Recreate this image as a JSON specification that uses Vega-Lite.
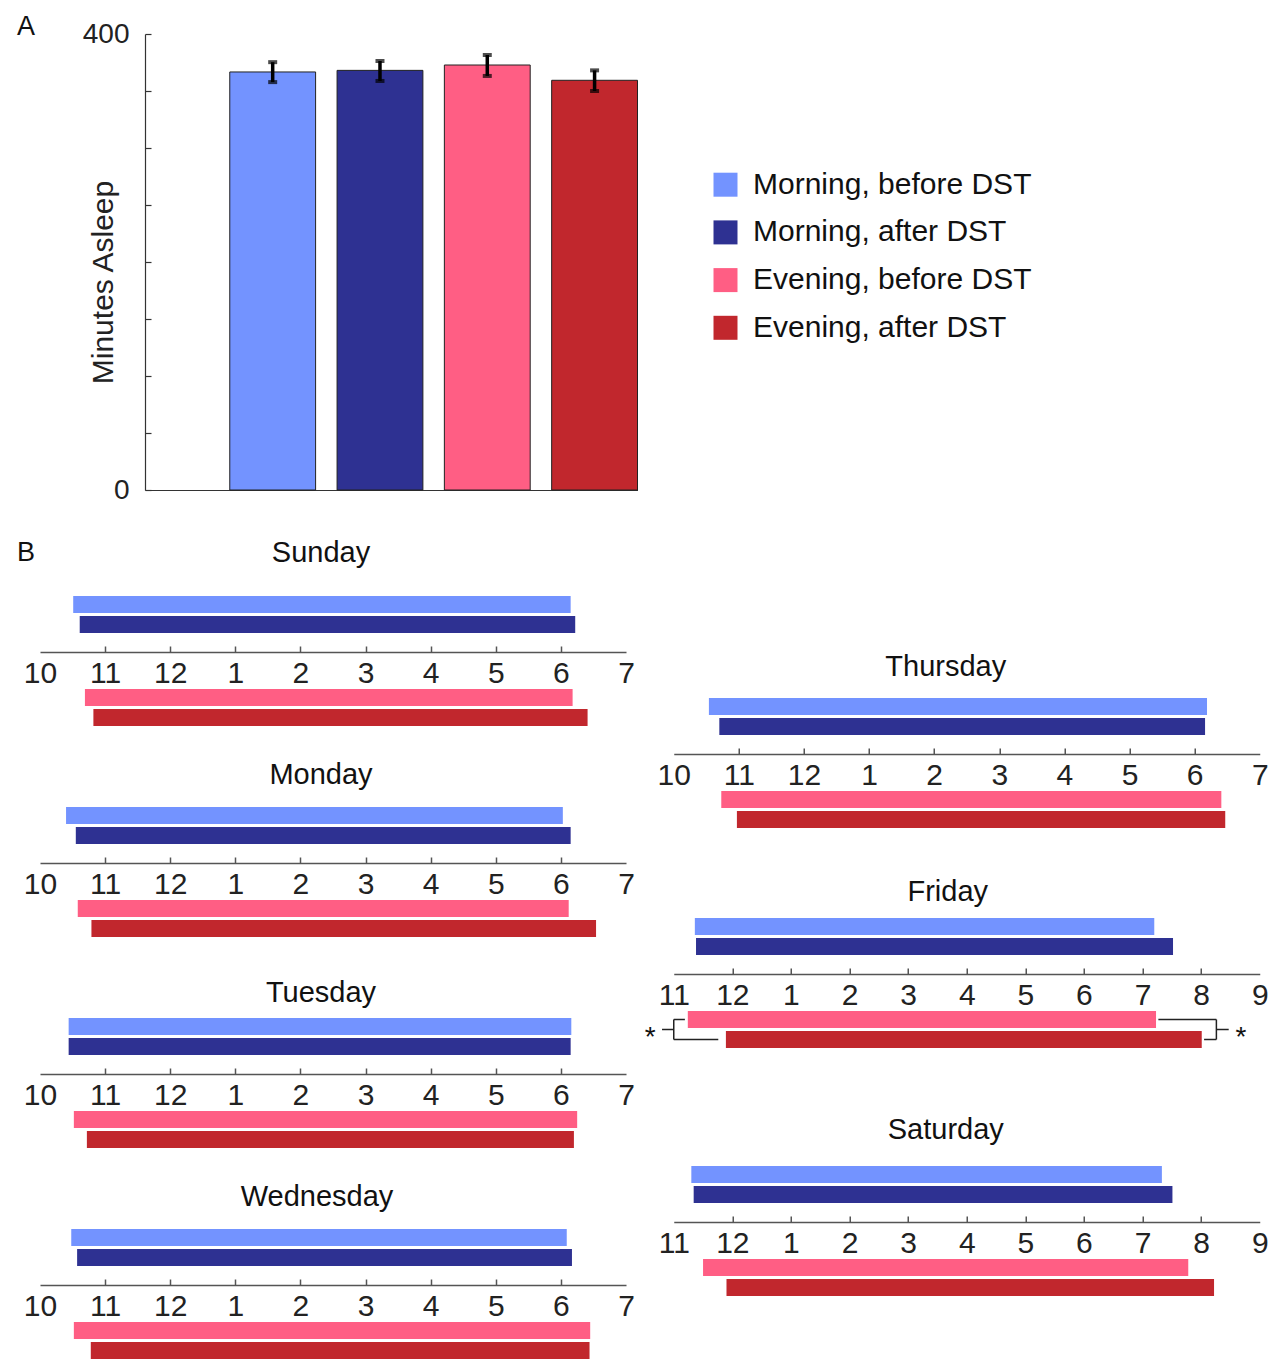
{
  "$schema": "https://vega.github.io/schema/vega-lite/v6.json",
  "background": "white",
  "padding": {"left": 17, "top": 13, "right": 4, "bottom": 0},
  "config": {
    "font": "Liberation Sans",
    "view": {"stroke": null},
    "axis": {"grid": false, "labelFont": "Liberation Sans", "titleFont": "Liberation Sans", "titleFontWeight": "normal", "labelColor": "#222", "titleColor": "#222"},
    "title": {"font": "Liberation Sans", "fontWeight": "normal", "color": "#111", "baseline": "bottom"},
    "legend": {"labelFont": "Liberation Sans"}
  },
  "resolve": {"scale": {"color": "independent"}, "legend": {"color": "independent"}},
  "datasets": {
    "sleep": [
      {"cond": "Morning, before DST", "minutes": 366.7, "lo": 357.8, "hi": 375.3},
      {"cond": "Morning, after DST", "minutes": 368.1, "lo": 358.8, "hi": 376.3},
      {"cond": "Evening, before DST", "minutes": 372.8, "lo": 363.2, "hi": 381.6},
      {"cond": "Evening, after DST", "minutes": 359.4, "lo": 350.0, "hi": 368.1}
    ],
    "nights": [
      {"day": "Sunday", "period": "Morning", "cond": "Morning, before DST", "start": 22.51, "end": 30.15},
      {"day": "Sunday", "period": "Morning", "cond": "Morning, after DST", "start": 22.61, "end": 30.22},
      {"day": "Sunday", "period": "Evening", "cond": "Evening, before DST", "start": 22.69, "end": 30.18},
      {"day": "Sunday", "period": "Evening", "cond": "Evening, after DST", "start": 22.82, "end": 30.41},
      {"day": "Monday", "period": "Morning", "cond": "Morning, before DST", "start": 22.40, "end": 30.03},
      {"day": "Monday", "period": "Morning", "cond": "Morning, after DST", "start": 22.55, "end": 30.15},
      {"day": "Monday", "period": "Evening", "cond": "Evening, before DST", "start": 22.58, "end": 30.12},
      {"day": "Monday", "period": "Evening", "cond": "Evening, after DST", "start": 22.79, "end": 30.54},
      {"day": "Tuesday", "period": "Morning", "cond": "Morning, before DST", "start": 22.44, "end": 30.16},
      {"day": "Tuesday", "period": "Morning", "cond": "Morning, after DST", "start": 22.44, "end": 30.15},
      {"day": "Tuesday", "period": "Evening", "cond": "Evening, before DST", "start": 22.52, "end": 30.25},
      {"day": "Tuesday", "period": "Evening", "cond": "Evening, after DST", "start": 22.72, "end": 30.20},
      {"day": "Wednesday", "period": "Morning", "cond": "Morning, before DST", "start": 22.48, "end": 30.09},
      {"day": "Wednesday", "period": "Morning", "cond": "Morning, after DST", "start": 22.57, "end": 30.17},
      {"day": "Wednesday", "period": "Evening", "cond": "Evening, before DST", "start": 22.52, "end": 30.45},
      {"day": "Wednesday", "period": "Evening", "cond": "Evening, after DST", "start": 22.78, "end": 30.44},
      {"day": "Thursday", "period": "Morning", "cond": "Morning, before DST", "start": 22.54, "end": 30.19},
      {"day": "Thursday", "period": "Morning", "cond": "Morning, after DST", "start": 22.70, "end": 30.16},
      {"day": "Thursday", "period": "Evening", "cond": "Evening, before DST", "start": 22.73, "end": 30.41},
      {"day": "Thursday", "period": "Evening", "cond": "Evening, after DST", "start": 22.97, "end": 30.47},
      {"day": "Friday", "period": "Morning", "cond": "Morning, before DST", "start": 23.36, "end": 31.20},
      {"day": "Friday", "period": "Morning", "cond": "Morning, after DST", "start": 23.38, "end": 31.52},
      {"day": "Friday", "period": "Evening", "cond": "Evening, before DST", "start": 23.24, "end": 31.23},
      {"day": "Friday", "period": "Evening", "cond": "Evening, after DST", "start": 23.89, "end": 32.01},
      {"day": "Saturday", "period": "Morning", "cond": "Morning, before DST", "start": 23.30, "end": 31.33},
      {"day": "Saturday", "period": "Morning", "cond": "Morning, after DST", "start": 23.34, "end": 31.51},
      {"day": "Saturday", "period": "Evening", "cond": "Evening, before DST", "start": 23.50, "end": 31.78},
      {"day": "Saturday", "period": "Evening", "cond": "Evening, after DST", "start": 23.90, "end": 32.22}
    ],
    "fri_brackets": [
      {"x1": 23.0, "x2": 23.0, "r1": "Evening, before DST", "r2": "Evening, after DST"},
      {"x1": 23.0, "x2": 23.19, "r1": "Evening, before DST", "r2": "Evening, before DST"},
      {"x1": 23.0, "x2": 23.76, "r1": "Evening, after DST", "r2": "Evening, after DST"},
      {"x1": 32.26, "x2": 32.26, "r1": "Evening, before DST", "r2": "Evening, after DST"},
      {"x1": 31.27, "x2": 32.26, "r1": "Evening, before DST", "r2": "Evening, before DST"},
      {"x1": 32.05, "x2": 32.26, "r1": "Evening, after DST", "r2": "Evening, after DST"}
    ],
    "fri_mid": [
      {"x1": 22.8, "x2": 23.0, "r": "Evening, before DST"},
      {"x1": 32.26, "x2": 32.47, "r": "Evening, before DST"}
    ],
    "fri_star": [
      {"x": 22.6, "r": "Evening, before DST", "label": "*"},
      {"x": 32.68, "r": "Evening, before DST", "label": "*"}
    ]
  },
  "spacing": 34,
  "vconcat": [
    {
      "width": 597.5,
      "height": 456,
      "title": {"text": "A", "anchor": "start", "frame": "bounds", "dx": -23, "offset": -48, "fontSize": 27, "baseline": "bottom"},
      "data": {"name": "sleep"},
      "encoding": {
        "x": {"field": "cond", "type": "nominal", "sort": null,
          "scale": {"domain": ["Morning, before DST", "Morning, after DST", "Evening, before DST", "Evening, after DST"], "range": [105, 597.5], "paddingInner": 0.2, "paddingOuter": 0.395, "align": 1},
          "axis": {"labels": false, "title": null, "tickSize": -6, "domainColor": "#333", "tickColor": "#333", "domainWidth": 1.2, "tickWidth": 1.2}}
      },
      "layer": [
        {
          "mark": {"type": "bar", "stroke": "#222", "strokeWidth": 1},
          "encoding": {
            "y": {"field": "minutes", "type": "quantitative", "title": "Minutes Asleep",
              "scale": {"domain": [0, 400], "nice": false},
              "axis": {"values": [0, 50, 100, 150, 200, 250, 300, 350, 400],
                "labelExpr": "datum.value == 0 || datum.value == 400 ? datum.label : ''",
                "offset": -105,
                "tickSize": -6, "tickWidth": 1.2, "domainWidth": 1.2, "domainColor": "#333", "tickColor": "#333",
                "labelPadding": 22, "labelFontSize": 28, "labelFlush": false, "labelOverlap": false,
                "titleFontSize": 30, "titleX": -27, "titleY": 248, "titleAngle": -90, "titleBaseline": "bottom", "titleAlign": "center"}},
            "color": {"field": "cond", "type": "nominal",
              "scale": {"domain": ["Morning, before DST", "Morning, after DST", "Evening, before DST", "Evening, after DST"], "range": ["#7393FF", "#2E3192", "#FF5E84", "#C1272D"]},
              "legend": {"orient": "none", "legendX": 670.5, "legendY": 135.7, "title": null, "symbolType": "square", "symbolSize": 576, "symbolStrokeWidth": 0, "symbolOpacity": 1, "labelFontSize": 30, "labelOffset": 12.5, "rowPadding": 17.7, "padding": 0, "labelLimit": 500, "labelColor": "#111"}}
          }
        },
        {
          "mark": {"type": "rule", "color": "#000", "strokeWidth": 3.5},
          "encoding": {"y": {"field": "lo", "type": "quantitative", "title": "Minutes Asleep"}, "y2": {"field": "hi"}}
        },
        {
          "mark": {"type": "tick", "color": "#000", "thickness": 4, "size": 9},
          "encoding": {"y": {"field": "lo", "type": "quantitative", "title": "Minutes Asleep"}}
        },
        {
          "mark": {"type": "tick", "color": "#000", "thickness": 4, "size": 9},
          "encoding": {"y": {"field": "hi", "type": "quantitative", "title": "Minutes Asleep"}}
        }
      ]
    },
    {
      "title": {"text": "B", "anchor": "start", "frame": "bounds", "dx": -6.3, "offset": -55.6, "fontSize": 27, "baseline": "bottom"},
      "spacing": 9.75,
      "hconcat": [
        {
          "bounds": "flush",
          "spacing": 37,
          "vconcat": [
            {
              "width": 586, "height": 56,
              "title": {"text": "Sunday", "fontSize": 29, "offset": -0.6, "dx": -12, "anchor": "middle", "baseline": "bottom"},
              "data": {"name": "nights"},
              "transform": [{"filter": {"and": [{"field": "day", "equal": "Sunday"}, {"field": "period", "equal": "Morning"}]}}],
              "mark": {"type": "bar", "size": 17},
              "encoding": {
                "x": {"field": "start", "type": "quantitative", "scale": {"domain": [22, 31], "nice": false, "zero": false},
                  "axis": {"values": [22, 23, 24, 25, 26, 27, 28, 29, 30, 31], "labelExpr": "datum.value % 12 == 0 ? '12' : '' + (datum.value % 12)", "title": null, "tickSize": -6, "tickWidth": 1.5, "domainWidth": 1.5, "domainColor": "#555", "tickColor": "#555", "labelFontSize": 30, "labelPadding": 12, "labelFlush": false, "labelOverlap": false, "tickOpacity": {"condition": {"test": "datum.value == 22 || datum.value == 31", "value": 0}, "value": 1}}},
                "x2": {"field": "end"},
                "y": {"field": "cond", "type": "nominal", "scale": {"type": "point", "domain": ["Morning, before DST", "Morning, after DST"], "padding": 0.9, "align": 0.23611}, "axis": null},
                "color": {"field": "cond", "type": "nominal", "scale": {"domain": ["Morning, before DST", "Morning, after DST", "Evening, before DST", "Evening, after DST"], "range": ["#7393FF", "#2E3192", "#FF5E84", "#C1272D"]}, "legend": null}
              }
            },
            {
              "width": 586, "height": 38,
              "data": {"name": "nights"},
              "transform": [{"filter": {"and": [{"field": "day", "equal": "Sunday"}, {"field": "period", "equal": "Evening"}]}}],
              "mark": {"type": "bar", "size": 17},
              "encoding": {
                "x": {"field": "start", "type": "quantitative", "scale": {"domain": [22, 31], "nice": false, "zero": false}, "axis": null},
                "x2": {"field": "end"},
                "y": {"field": "cond", "type": "nominal", "scale": {"type": "point", "domain": ["Evening, before DST", "Evening, after DST"], "padding": 0.45, "align": 0.47222}, "axis": null},
                "color": {"field": "cond", "type": "nominal", "scale": {"domain": ["Morning, before DST", "Morning, after DST", "Evening, before DST", "Evening, after DST"], "range": ["#7393FF", "#2E3192", "#FF5E84", "#C1272D"]}, "legend": null}
              }
            },
            {"width": 586, "height": 6, "data": {"values": []}, "mark": {"type": "point", "opacity": 0}, "encoding": {}},
            {
              "width": 586, "height": 56,
              "title": {"text": "Monday", "fontSize": 29, "offset": -12.4, "dx": -12, "anchor": "middle", "baseline": "bottom"},
              "data": {"name": "nights"},
              "transform": [{"filter": {"and": [{"field": "day", "equal": "Monday"}, {"field": "period", "equal": "Morning"}]}}],
              "mark": {"type": "bar", "size": 17},
              "encoding": {
                "x": {"field": "start", "type": "quantitative", "scale": {"domain": [22, 31], "nice": false, "zero": false},
                  "axis": {"values": [22, 23, 24, 25, 26, 27, 28, 29, 30, 31], "labelExpr": "datum.value % 12 == 0 ? '12' : '' + (datum.value % 12)", "title": null, "tickSize": -6, "tickWidth": 1.5, "domainWidth": 1.5, "domainColor": "#555", "tickColor": "#555", "labelFontSize": 30, "labelPadding": 12, "labelFlush": false, "labelOverlap": false, "tickOpacity": {"condition": {"test": "datum.value == 22 || datum.value == 31", "value": 0}, "value": 1}}},
                "x2": {"field": "end"},
                "y": {"field": "cond", "type": "nominal", "scale": {"type": "point", "domain": ["Morning, before DST", "Morning, after DST"], "padding": 0.9, "align": 0.23611}, "axis": null},
                "color": {"field": "cond", "type": "nominal", "scale": {"domain": ["Morning, before DST", "Morning, after DST", "Evening, before DST", "Evening, after DST"], "range": ["#7393FF", "#2E3192", "#FF5E84", "#C1272D"]}, "legend": null}
              }
            },
            {
              "width": 586, "height": 38,
              "data": {"name": "nights"},
              "transform": [{"filter": {"and": [{"field": "day", "equal": "Monday"}, {"field": "period", "equal": "Evening"}]}}],
              "mark": {"type": "bar", "size": 17},
              "encoding": {
                "x": {"field": "start", "type": "quantitative", "scale": {"domain": [22, 31], "nice": false, "zero": false}, "axis": null},
                "x2": {"field": "end"},
                "y": {"field": "cond", "type": "nominal", "scale": {"type": "point", "domain": ["Evening, before DST", "Evening, after DST"], "padding": 0.45, "align": 0.47222}, "axis": null},
                "color": {"field": "cond", "type": "nominal", "scale": {"domain": ["Morning, before DST", "Morning, after DST", "Evening, before DST", "Evening, after DST"], "range": ["#7393FF", "#2E3192", "#FF5E84", "#C1272D"]}, "legend": null}
              }
            },
            {"width": 586, "height": 6, "data": {"values": []}, "mark": {"type": "point", "opacity": 0}, "encoding": {}},
            {
              "width": 586, "height": 56,
              "title": {"text": "Tuesday", "fontSize": 29, "offset": -19.4, "dx": -12, "anchor": "middle", "baseline": "bottom"},
              "data": {"name": "nights"},
              "transform": [{"filter": {"and": [{"field": "day", "equal": "Tuesday"}, {"field": "period", "equal": "Morning"}]}}],
              "mark": {"type": "bar", "size": 17},
              "encoding": {
                "x": {"field": "start", "type": "quantitative", "scale": {"domain": [22, 31], "nice": false, "zero": false},
                  "axis": {"values": [22, 23, 24, 25, 26, 27, 28, 29, 30, 31], "labelExpr": "datum.value % 12 == 0 ? '12' : '' + (datum.value % 12)", "title": null, "tickSize": -6, "tickWidth": 1.5, "domainWidth": 1.5, "domainColor": "#555", "tickColor": "#555", "labelFontSize": 30, "labelPadding": 12, "labelFlush": false, "labelOverlap": false, "tickOpacity": {"condition": {"test": "datum.value == 22 || datum.value == 31", "value": 0}, "value": 1}}},
                "x2": {"field": "end"},
                "y": {"field": "cond", "type": "nominal", "scale": {"type": "point", "domain": ["Morning, before DST", "Morning, after DST"], "padding": 0.9, "align": 0.23611}, "axis": null},
                "color": {"field": "cond", "type": "nominal", "scale": {"domain": ["Morning, before DST", "Morning, after DST", "Evening, before DST", "Evening, after DST"], "range": ["#7393FF", "#2E3192", "#FF5E84", "#C1272D"]}, "legend": null}
              }
            },
            {
              "width": 586, "height": 38,
              "data": {"name": "nights"},
              "transform": [{"filter": {"and": [{"field": "day", "equal": "Tuesday"}, {"field": "period", "equal": "Evening"}]}}],
              "mark": {"type": "bar", "size": 17},
              "encoding": {
                "x": {"field": "start", "type": "quantitative", "scale": {"domain": [22, 31], "nice": false, "zero": false}, "axis": null},
                "x2": {"field": "end"},
                "y": {"field": "cond", "type": "nominal", "scale": {"type": "point", "domain": ["Evening, before DST", "Evening, after DST"], "padding": 0.45, "align": 0.47222}, "axis": null},
                "color": {"field": "cond", "type": "nominal", "scale": {"domain": ["Morning, before DST", "Morning, after DST", "Evening, before DST", "Evening, after DST"], "range": ["#7393FF", "#2E3192", "#FF5E84", "#C1272D"]}, "legend": null}
              }
            },
            {"width": 586, "height": 6, "data": {"values": []}, "mark": {"type": "point", "opacity": 0}, "encoding": {}},
            {
              "width": 586, "height": 56,
              "title": {"text": "Wednesday", "fontSize": 29, "offset": -12.4, "dx": -16, "anchor": "middle", "baseline": "bottom"},
              "data": {"name": "nights"},
              "transform": [{"filter": {"and": [{"field": "day", "equal": "Wednesday"}, {"field": "period", "equal": "Morning"}]}}],
              "mark": {"type": "bar", "size": 17},
              "encoding": {
                "x": {"field": "start", "type": "quantitative", "scale": {"domain": [22, 31], "nice": false, "zero": false},
                  "axis": {"values": [22, 23, 24, 25, 26, 27, 28, 29, 30, 31], "labelExpr": "datum.value % 12 == 0 ? '12' : '' + (datum.value % 12)", "title": null, "tickSize": -6, "tickWidth": 1.5, "domainWidth": 1.5, "domainColor": "#555", "tickColor": "#555", "labelFontSize": 30, "labelPadding": 12, "labelFlush": false, "labelOverlap": false, "tickOpacity": {"condition": {"test": "datum.value == 22 || datum.value == 31", "value": 0}, "value": 1}}},
                "x2": {"field": "end"},
                "y": {"field": "cond", "type": "nominal", "scale": {"type": "point", "domain": ["Morning, before DST", "Morning, after DST"], "padding": 0.9, "align": 0.23611}, "axis": null},
                "color": {"field": "cond", "type": "nominal", "scale": {"domain": ["Morning, before DST", "Morning, after DST", "Evening, before DST", "Evening, after DST"], "range": ["#7393FF", "#2E3192", "#FF5E84", "#C1272D"]}, "legend": null}
              }
            },
            {
              "width": 586, "height": 38,
              "data": {"name": "nights"},
              "transform": [{"filter": {"and": [{"field": "day", "equal": "Wednesday"}, {"field": "period", "equal": "Evening"}]}}],
              "mark": {"type": "bar", "size": 17},
              "encoding": {
                "x": {"field": "start", "type": "quantitative", "scale": {"domain": [22, 31], "nice": false, "zero": false}, "axis": null},
                "x2": {"field": "end"},
                "y": {"field": "cond", "type": "nominal", "scale": {"type": "point", "domain": ["Evening, before DST", "Evening, after DST"], "padding": 0.45, "align": 0.47222}, "axis": null},
                "color": {"field": "cond", "type": "nominal", "scale": {"domain": ["Morning, before DST", "Morning, after DST", "Evening, before DST", "Evening, after DST"], "range": ["#7393FF", "#2E3192", "#FF5E84", "#C1272D"]}, "legend": null}
              }
            }
          ]
        },
        {
          "bounds": "flush",
          "spacing": 37,
          "vconcat": [
            {"width": 586, "height": 65, "data": {"values": []}, "mark": {"type": "point", "opacity": 0}, "encoding": {}},
            {
              "width": 586, "height": 56,
              "title": {"text": "Thursday", "fontSize": 29, "offset": -13.2, "dx": -21, "anchor": "middle", "baseline": "bottom"},
              "data": {"name": "nights"},
              "transform": [{"filter": {"and": [{"field": "day", "equal": "Thursday"}, {"field": "period", "equal": "Morning"}]}}],
              "mark": {"type": "bar", "size": 17},
              "encoding": {
                "x": {"field": "start", "type": "quantitative", "scale": {"domain": [22, 31], "nice": false, "zero": false},
                  "axis": {"values": [22, 23, 24, 25, 26, 27, 28, 29, 30, 31], "labelExpr": "datum.value % 12 == 0 ? '12' : '' + (datum.value % 12)", "title": null, "tickSize": -6, "tickWidth": 1.5, "domainWidth": 1.5, "domainColor": "#555", "tickColor": "#555", "labelFontSize": 30, "labelPadding": 12, "labelFlush": false, "labelOverlap": false, "tickOpacity": {"condition": {"test": "datum.value == 22 || datum.value == 31", "value": 0}, "value": 1}}},
                "x2": {"field": "end"},
                "y": {"field": "cond", "type": "nominal", "scale": {"type": "point", "domain": ["Morning, before DST", "Morning, after DST"], "padding": 0.9, "align": 0.23611}, "axis": null},
                "color": {"field": "cond", "type": "nominal", "scale": {"domain": ["Morning, before DST", "Morning, after DST", "Evening, before DST", "Evening, after DST"], "range": ["#7393FF", "#2E3192", "#FF5E84", "#C1272D"]}, "legend": null}
              }
            },
            {
              "width": 586, "height": 38,
              "data": {"name": "nights"},
              "transform": [{"filter": {"and": [{"field": "day", "equal": "Thursday"}, {"field": "period", "equal": "Evening"}]}}],
              "mark": {"type": "bar", "size": 17},
              "encoding": {
                "x": {"field": "start", "type": "quantitative", "scale": {"domain": [22, 31], "nice": false, "zero": false}, "axis": null},
                "x2": {"field": "end"},
                "y": {"field": "cond", "type": "nominal", "scale": {"type": "point", "domain": ["Evening, before DST", "Evening, after DST"], "padding": 0.45, "align": 0.47222}, "axis": null},
                "color": {"field": "cond", "type": "nominal", "scale": {"domain": ["Morning, before DST", "Morning, after DST", "Evening, before DST", "Evening, after DST"], "range": ["#7393FF", "#2E3192", "#FF5E84", "#C1272D"]}, "legend": null}
              }
            },
            {"width": 586, "height": 15, "data": {"values": []}, "mark": {"type": "point", "opacity": 0}, "encoding": {}},
            {
              "width": 586, "height": 56,
              "title": {"text": "Friday", "fontSize": 29, "offset": -17.8, "dx": -19, "anchor": "middle", "baseline": "bottom"},
              "data": {"name": "nights"},
              "transform": [{"filter": {"and": [{"field": "day", "equal": "Friday"}, {"field": "period", "equal": "Morning"}]}}],
              "mark": {"type": "bar", "size": 17},
              "encoding": {
                "x": {"field": "start", "type": "quantitative", "scale": {"domain": [23, 33], "nice": false, "zero": false},
                  "axis": {"values": [23, 24, 25, 26, 27, 28, 29, 30, 31, 32, 33], "labelExpr": "datum.value % 12 == 0 ? '12' : '' + (datum.value % 12)", "title": null, "tickSize": -6, "tickWidth": 1.5, "domainWidth": 1.5, "domainColor": "#555", "tickColor": "#555", "labelFontSize": 30, "labelPadding": 12, "labelFlush": false, "labelOverlap": false, "tickOpacity": {"condition": {"test": "datum.value == 23 || datum.value == 33", "value": 0}, "value": 1}}},
                "x2": {"field": "end"},
                "y": {"field": "cond", "type": "nominal", "scale": {"type": "point", "domain": ["Morning, before DST", "Morning, after DST"], "padding": 0.9, "align": 0.23611}, "axis": null},
                "color": {"field": "cond", "type": "nominal", "scale": {"domain": ["Morning, before DST", "Morning, after DST", "Evening, before DST", "Evening, after DST"], "range": ["#7393FF", "#2E3192", "#FF5E84", "#C1272D"]}, "legend": null}
              }
            },
            {
              "width": 586, "height": 38,
              "layer": [
                {
                  "data": {"name": "nights"},
                  "transform": [{"filter": {"and": [{"field": "day", "equal": "Friday"}, {"field": "period", "equal": "Evening"}]}}],
                  "mark": {"type": "bar", "size": 17},
                  "encoding": {
                    "x": {"field": "start", "type": "quantitative", "scale": {"domain": [23, 33], "nice": false, "zero": false}, "axis": null},
                    "x2": {"field": "end"},
                    "y": {"field": "cond", "type": "nominal", "scale": {"type": "point", "domain": ["Evening, before DST", "Evening, after DST"], "padding": 0.45, "align": 0.47222}, "axis": null},
                    "color": {"field": "cond", "type": "nominal", "scale": {"domain": ["Morning, before DST", "Morning, after DST", "Evening, before DST", "Evening, after DST"], "range": ["#7393FF", "#2E3192", "#FF5E84", "#C1272D"]}, "legend": null}
                  }
                },
                {
                  "data": {"name": "fri_brackets"},
                  "mark": {"type": "rule", "color": "#222", "strokeWidth": 1.5},
                  "encoding": {
                    "x": {"field": "x1", "type": "quantitative", "axis": null},
                    "x2": {"field": "x2"},
                    "y": {"field": "r1", "type": "nominal", "axis": null},
                    "y2": {"field": "r2"}
                  }
                },
                {
                  "data": {"name": "fri_mid"},
                  "mark": {"type": "rule", "color": "#222", "strokeWidth": 1.5, "yOffset": 10},
                  "encoding": {
                    "x": {"field": "x1", "type": "quantitative", "axis": null},
                    "x2": {"field": "x2"},
                    "y": {"field": "r", "type": "nominal", "axis": null}
                  }
                },
                {
                  "data": {"name": "fri_star"},
                  "mark": {"type": "text", "fontSize": 28, "color": "#111", "yOffset": 10, "dy": 8, "baseline": "middle", "align": "center"},
                  "encoding": {
                    "x": {"field": "x", "type": "quantitative", "axis": null},
                    "y": {"field": "r", "type": "nominal", "axis": null},
                    "text": {"field": "label"}
                  }
                }
              ]
            },
            {"width": 586, "height": 43, "data": {"values": []}, "mark": {"type": "point", "opacity": 0}, "encoding": {}},
            {
              "width": 586, "height": 56,
              "title": {"text": "Saturday", "fontSize": 29, "offset": -8.2, "dx": -21, "anchor": "middle", "baseline": "bottom"},
              "data": {"name": "nights"},
              "transform": [{"filter": {"and": [{"field": "day", "equal": "Saturday"}, {"field": "period", "equal": "Morning"}]}}],
              "mark": {"type": "bar", "size": 17},
              "encoding": {
                "x": {"field": "start", "type": "quantitative", "scale": {"domain": [23, 33], "nice": false, "zero": false},
                  "axis": {"values": [23, 24, 25, 26, 27, 28, 29, 30, 31, 32, 33], "labelExpr": "datum.value % 12 == 0 ? '12' : '' + (datum.value % 12)", "title": null, "tickSize": -6, "tickWidth": 1.5, "domainWidth": 1.5, "domainColor": "#555", "tickColor": "#555", "labelFontSize": 30, "labelPadding": 12, "labelFlush": false, "labelOverlap": false, "tickOpacity": {"condition": {"test": "datum.value == 23 || datum.value == 33", "value": 0}, "value": 1}}},
                "x2": {"field": "end"},
                "y": {"field": "cond", "type": "nominal", "scale": {"type": "point", "domain": ["Morning, before DST", "Morning, after DST"], "padding": 0.9, "align": 0.23611}, "axis": null},
                "color": {"field": "cond", "type": "nominal", "scale": {"domain": ["Morning, before DST", "Morning, after DST", "Evening, before DST", "Evening, after DST"], "range": ["#7393FF", "#2E3192", "#FF5E84", "#C1272D"]}, "legend": null}
              }
            },
            {
              "width": 586, "height": 38,
              "data": {"name": "nights"},
              "transform": [{"filter": {"and": [{"field": "day", "equal": "Saturday"}, {"field": "period", "equal": "Evening"}]}}],
              "mark": {"type": "bar", "size": 17},
              "encoding": {
                "x": {"field": "start", "type": "quantitative", "scale": {"domain": [23, 33], "nice": false, "zero": false}, "axis": null},
                "x2": {"field": "end"},
                "y": {"field": "cond", "type": "nominal", "scale": {"type": "point", "domain": ["Evening, before DST", "Evening, after DST"], "padding": 0.45, "align": 0.47222}, "axis": null},
                "color": {"field": "cond", "type": "nominal", "scale": {"domain": ["Morning, before DST", "Morning, after DST", "Evening, before DST", "Evening, after DST"], "range": ["#7393FF", "#2E3192", "#FF5E84", "#C1272D"]}, "legend": null}
              }
            }
          ]
        }
      ]
    }
  ]
}
